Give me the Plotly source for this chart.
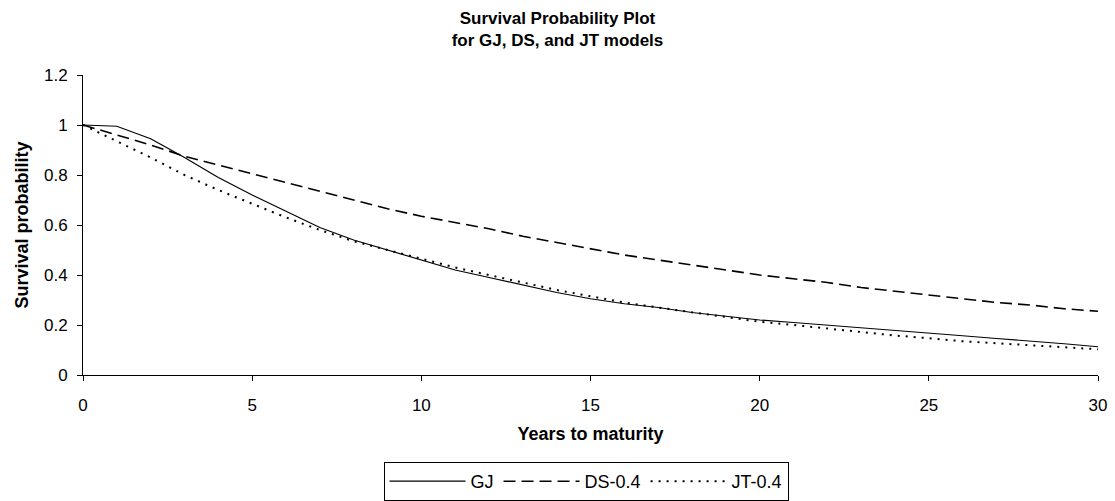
import plotly.graph_objects as go

years = list(range(0, 31))
gj = [1.0, 0.995, 0.945, 0.87, 0.79, 0.72, 0.655, 0.59, 0.54, 0.50, 0.46,
      0.42, 0.39, 0.36, 0.33, 0.305, 0.285, 0.27, 0.25, 0.235, 0.22,
      0.21, 0.20, 0.19, 0.178, 0.167, 0.157, 0.146, 0.137, 0.125, 0.113]
ds = [1.0, 0.96, 0.92, 0.875, 0.84, 0.805, 0.77, 0.735, 0.70, 0.665, 0.635,
      0.61, 0.585, 0.555, 0.53, 0.505, 0.48, 0.46, 0.44, 0.42, 0.40,
      0.385, 0.37, 0.35, 0.335, 0.32, 0.305, 0.29, 0.28, 0.265, 0.255]
jt = [1.0, 0.935, 0.87, 0.80, 0.74, 0.685, 0.63, 0.58, 0.535, 0.50, 0.465,
      0.43, 0.40, 0.37, 0.34, 0.315, 0.29, 0.27, 0.25, 0.23, 0.213,
      0.20, 0.185, 0.17, 0.158, 0.147, 0.135, 0.127, 0.118, 0.11, 0.103]

x_ticks = [0, 5, 10, 15, 20, 25, 30]
y_ticks = [0, 0.2, 0.4, 0.6, 0.8, 1, 1.2]
y_ticktext = ["0", "0.2", "0.4", "0.6", "0.8", "1", "1.2"]

font = "Liberation Sans, Arial, sans-serif"

fig = go.Figure()
fig.add_trace(go.Scatter(x=years, y=gj, mode="lines", name="GJ",
                         line=dict(color="black", width=1.2, dash="solid")))
fig.add_trace(go.Scatter(x=years, y=ds, mode="lines", name="DS-0.4",
                         line=dict(color="black", width=1.6, dash="12px,6px")))
fig.add_trace(go.Scatter(x=years, y=jt, mode="lines", name="JT-0.4",
                         line=dict(color="black", width=2, dash="2px,6px")))

fig.update_layout(
    width=1115, height=501,
    paper_bgcolor="white", plot_bgcolor="white",
    margin=dict(l=83, r=17, t=75, b=126, autoexpand=False),
    font=dict(family=font, size=17, color="black"),
    title=dict(text="<b>Survival Probability Plot<br>for GJ, DS, and JT models</b>",
               x=0.5, xanchor="center", xref="container",
               y=0.952, yanchor="top", yref="container",
               font=dict(size=17, family=font, color="black")),
    showlegend=True,
    legend=dict(orientation="h", x=0.4956, xanchor="center", y=-0.29, yanchor="top",
                bordercolor="black", borderwidth=1, font=dict(size=18),
                itemwidth=76),
    xaxis=dict(range=[0, 30], tickvals=x_ticks, automargin=False,
               showline=True, linecolor="black", linewidth=1,
               ticks="outside", ticklen=5, tickcolor="black",
               ticklabelstandoff=10,
               showgrid=False, zeroline=False,
               title=dict(text="<b>Years to maturity</b>", font=dict(size=18), standoff=12)),
    yaxis=dict(range=[0, 1.2], tickvals=y_ticks, ticktext=y_ticktext, automargin=False,
               showline=True, linecolor="black", linewidth=1,
               ticks="outside", ticklen=5, tickcolor="black",
               ticklabelstandoff=6,
               showgrid=False, zeroline=False,
               title=dict(text="<b>Survival probability</b>", font=dict(size=18), standoff=10)),
)

fig.write_html("out.html", config={"displayModeBar": False},
               post_script="document.body.style.margin='0';")
